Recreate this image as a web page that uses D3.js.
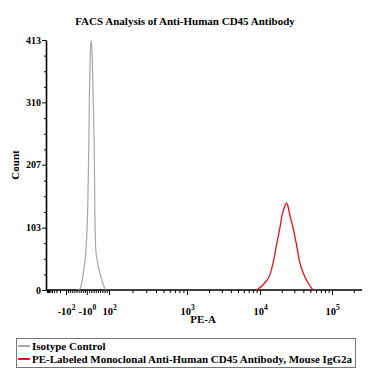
<!DOCTYPE html>
<meta charset="utf-8">
<style>
body { margin: 0; background: #fff; }
svg { display: block; }
text { font-family: "Liberation Serif", "Times New Roman", serif; font-weight: bold; fill: #000; }
.domain { stroke: #000; stroke-width: 1.6px; }
.tick line { stroke: #000; stroke-width: 1px; }
</style>
<body>
<div id="main"></div>
<script src="https://d3js.org/d3.v7.min.js"></script>
<script>

// data: PE-A value and event count
var isoValues = [-40, -34, -30, -25, -20, -14, -5, 4, 6, 8, 11, 15, 19, 23, 28, 31, 33, 35, 40, 46, 53, 60, 68, 76, 86];
var isoCounts = [0, 2, 5, 12, 22, 38, 66, 149, 190, 232, 320, 392, 413, 392, 320, 270, 232, 149, 66, 50, 36, 26, 16, 7, 0];

var cd45Values = [9000, 11700, 13700, 15300, 17000, 18900, 20300, 22000, 23400, 24500, 25900, 28800, 32100, 35600, 40800, 46400, 54300];
var cd45Counts = [0, 12, 25, 46, 75, 103, 124, 138, 144, 138, 124, 103, 75, 46, 25, 12, 0];

var yTicks = [0, 103, 207, 310, 413];
var xTickValues = [-100, -1, 100, 1000, 10000, 100000];
var xTickBases = ["-10", "-10", "10", "10", "10", "10"];
var xTickExps = ["2", "0", "2", "3", "4", "5"];

var seriesNames = ["Isotype Control", "PE-Labeled Monoclonal Anti-Human CD45 Antibody, Mouse IgG2a"];
var seriesColors = ["#a8a8a8", "#e8101a"];

// biexponential-ish transform: linear within +-100, log beyond
function u(v) {
  var a = Math.abs(v);
  if (a <= 100) return v / 100;
  return Math.sign(v) * (1 + Math.log10(a / 100));
}

var svg = d3.select("#main").append("svg")
    .attr("width", 383)
    .attr("height", 384);

var x = d3.scaleLinear()
    .domain([-2, -1, 0, 1, 2, 3, 4])
    .range([46, 66, 87, 109, 187, 260, 332]);
var xMax = 262144;

var y = d3.scaleLinear().domain([0, 413]).range([290, 40]);

// title
svg.append("text")
    .attr("x", 185).attr("y", 25)
    .attr("text-anchor", "middle")
    .attr("font-size", 11)
    .text("FACS Analysis of Anti-Human CD45 Antibody");

// minor ticks x
var minorX = [];
[-1, 1].forEach(function (s) {
  for (var k = 1; k <= 9; k++) minorX.push(s * k * 10);
});
for (var k = 2; k <= 9; k++) minorX.push(-k * 100);
[100, 1000, 10000, 100000].forEach(function (d) {
  for (var k = 2; k <= 9; k++) if (k * d <= xMax) minorX.push(k * d);
});

var gxMinor = svg.append("g")
    .attr("transform", "translate(0,290)")
    .call(d3.axisBottom(x).tickValues(minorX.map(u)).tickSize(3).tickFormat(""));
gxMinor.select(".domain").remove();

var gx = svg.append("g")
    .attr("transform", "translate(0,290)")
    .call(d3.axisBottom(x).tickValues(xTickValues.map(u)).tickSize(5).tickSizeOuter(0).tickPadding(6));
gx.select(".domain").attr("d", "M46,0H" + x(u(xMax)));
gx.selectAll(".tick text")
    .attr("font-size", 10.5)
    .attr("dy", "1.3em")
    .each(function (d, i) {
      var t = d3.select(this);
      t.text(null);
      t.append("tspan").text(xTickBases[i]);
      t.append("tspan").attr("dy", -5).attr("font-size", 7.5).text(xTickExps[i]);
    });

// y axis with minor ticks
var minorY = [];
for (var i = 0; i < 16; i++) if (i % 4) minorY.push(413 * i / 16);
var gyMinor = svg.append("g")
    .attr("transform", "translate(46,0)")
    .call(d3.axisLeft(y).tickValues(minorY).tickSize(2).tickFormat(""));
gyMinor.select(".domain").remove();

var gy = svg.append("g")
    .attr("transform", "translate(46,0)")
    .call(d3.axisLeft(y).tickValues(yTicks).tickSize(4).tickSizeOuter(0).tickPadding(1));
gy.selectAll(".tick text").attr("font-size", 10);

// axis titles
svg.append("text")
    .attr("transform", "translate(19,165) rotate(-90)")
    .attr("text-anchor", "middle")
    .attr("font-size", 11)
    .text("Count");

svg.append("text")
    .attr("x", 203).attr("y", 323)
    .attr("text-anchor", "middle")
    .attr("font-size", 11)
    .text("PE-A");

// histograms
var line = d3.line()
    .x(function (d) { return x(u(d[0])); })
    .y(function (d) { return y(d[1]); })
    .curve(d3.curveMonotoneX);

svg.append("path")
    .datum(d3.zip(isoValues, isoCounts))
    .attr("fill", "none")
    .attr("stroke", seriesColors[0])
    .attr("stroke-width", 1.2)
    .attr("d", line);

svg.append("path")
    .datum(d3.zip(cd45Values, cd45Counts))
    .attr("fill", "none")
    .attr("stroke", seriesColors[1])
    .attr("stroke-width", 1.3)
    .attr("d", line);

// legend
var legend = svg.append("g");
legend.append("rect")
    .attr("x", 16.5).attr("y", 338.5)
    .attr("width", 339).attr("height", 29)
    .attr("fill", "none")
    .attr("stroke", "#777");

seriesNames.forEach(function (name, i) {
  var ly = 346 + i * 13;
  legend.append("line")
      .attr("x1", 18).attr("x2", 30)
      .attr("y1", ly).attr("y2", ly)
      .attr("stroke", seriesColors[i])
      .attr("stroke-width", 2);
  legend.append("text")
      .attr("x", 32).attr("y", ly + 3.5)
      .attr("font-size", 11)
      .text(name);
});

</script>
</body>
